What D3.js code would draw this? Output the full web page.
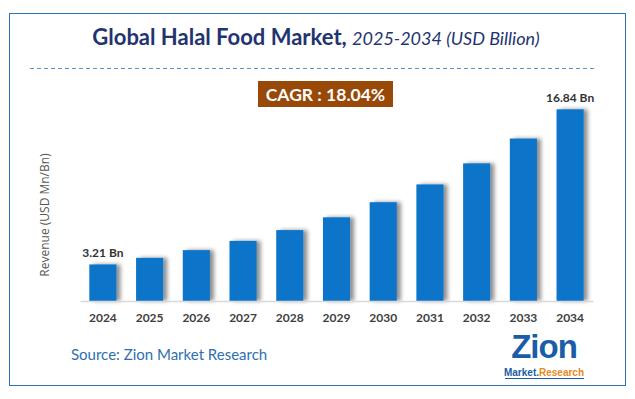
<!DOCTYPE html>
<html>
<head>
<meta charset="utf-8">
<script src="https://cdn.jsdelivr.net/npm/d3@7"></script>
<style>
  html, body { margin: 0; padding: 0; background: #fff; }
  svg { display: block; }
</style>
</head>
<body>
<svg id="chart"></svg>
<script>
const years  = ['2024', '2025', '2026', '2027', '2028', '2029', '2030', '2031', '2032', '2033', '2034'];
const values = [3.21, 3.79, 4.47, 5.28, 6.23, 7.35, 8.68, 10.24, 12.09, 14.27, 16.84];
const labels = { '2024': '3.21 Bn', '2034': '16.84 Bn' };
const cagr   = 'CAGR : 18.04%';

const W = 635, H = 399;
const m = { top: 110, right: 42, bottom: 98, left: 80 };
const iW = W - m.left - m.right;
const iH = H - m.top - m.bottom;

const svg = d3.select('#chart').attr('width', W).attr('height', H);

// bar shadow
const defs = svg.append('defs');
const f = defs.append('filter').attr('id', 'shadow')
  .attr('x', '-20%').attr('y', '-10%').attr('width', '160%').attr('height', '120%');
f.append('feGaussianBlur').attr('in', 'SourceAlpha').attr('stdDeviation', 2);
f.append('feOffset').attr('dx', 4).attr('dy', 0).attr('result', 'off');
f.append('feComponentTransfer').append('feFuncA').attr('type', 'linear').attr('slope', 0.45);
const fm = f.append('feMerge');
fm.append('feMergeNode');
fm.append('feMergeNode').attr('in', 'SourceGraphic');

// frame
svg.append('rect')
  .attr('x', 9.5).attr('y', 13.5).attr('width', 616).attr('height', 372)
  .attr('fill', 'none').attr('stroke', '#2e75b6').attr('stroke-width', 1);

// title
const title = svg.append('text')
  .attr('x', 316).attr('y', 45).attr('text-anchor', 'middle')
  .style('font-family', 'Lato, "Open Sans", sans-serif');
title.append('tspan').text('Global Halal Food Market, ')
  .attr('font-size', 22).attr('font-weight', 'bold').attr('fill', '#1f3470');
title.append('tspan').text('2025-2034 (USD Billion)')
  .attr('font-size', 18).attr('font-style', 'italic').attr('fill', '#1f3470');

// dashed separator
svg.append('line')
  .attr('x1', 30).attr('x2', 597).attr('y1', 68.5).attr('y2', 68.5)
  .attr('stroke', '#5b8ed0').attr('stroke-width', 1).attr('stroke-dasharray', '4,3');

// CAGR badge
svg.append('rect').attr('x', 258).attr('y', 81).attr('width', 135).attr('height', 26).attr('fill', '#984807');
svg.append('text').attr('x', 325.5).attr('y', 100.5).attr('text-anchor', 'middle')
  .attr('fill', '#fff').attr('font-size', 17.5).attr('font-weight', 'bold')
  .style('font-family', 'Lato, sans-serif').text(cagr);

const g = svg.append('g').attr('transform', `translate(${m.left},${m.top})`);

const xScale = d3.scaleBand().domain(years).range([0, iW]).paddingInner(0.42).paddingOuter(0.2);
const yScale = d3.scaleLinear().domain([0, d3.max(values)]).range([iH, iH - 191.7]);

// bars
g.selectAll('.bar')
  .data(years)
  .join('rect')
    .attr('class', 'bar')
    .attr('x', d => xScale(d))
    .attr('y', (d, i) => yScale(values[i]))
    .attr('width', xScale.bandwidth())
    .attr('height', (d, i) => iH - yScale(values[i]))
    .attr('fill', '#0a74c9')
    .attr('filter', 'url(#shadow)');

// baseline + year ticks
g.append('g')
  .attr('transform', `translate(0,${iH})`)
  .call(d3.axisBottom(xScale).tickSize(0).tickPadding(12))
  .call(ax => {
    ax.select('.domain').attr('stroke', '#d9d9d9').attr('stroke-width', 1.5);
    ax.selectAll('text')
      .attr('fill', '#404040').attr('font-size', 12).attr('font-weight', 'bold')
      .style('font-family', 'Lato, sans-serif');
  });

// value labels
g.selectAll('.vlabel')
  .data(years.filter(y => labels[y]))
  .join('text')
    .attr('class', 'vlabel')
    .attr('x', d => xScale(d) + xScale.bandwidth() / 2)
    .attr('y', d => yScale(values[years.indexOf(d)]) - 7)
    .attr('text-anchor', 'middle')
    .attr('fill', '#333').attr('font-size', 12).attr('font-weight', 'bold')
    .style('font-family', 'Lato, sans-serif')
    .text(d => labels[d]);

// y label
svg.append('text')
  .attr('transform', 'translate(49,215) rotate(-90)')
  .attr('text-anchor', 'middle')
  .attr('fill', '#555').attr('font-size', 12)
  .style('font-family', '"Open Sans", sans-serif')
  .text('Revenue (USD Mn/Bn)');

// source
svg.append('text')
  .attr('x', 71).attr('y', 360)
  .attr('fill', '#2e6fb0').attr('font-size', 15)
  .style('font-family', 'Lato, sans-serif')
  .text('Source: Zion Market Research');

// logo
const logo = svg.append('g');
logo.append('text').attr('x', 544).attr('y', 358).attr('text-anchor', 'middle')
  .attr('font-size', 33).attr('font-weight', 'bold').attr('fill', '#1a5ca8')
  .attr('letter-spacing', -1)
  .style('font-family', '"Liberation Sans", sans-serif')
  .text('Zion');
const lt = logo.append('text').attr('x', 544).attr('y', 376).attr('text-anchor', 'middle')
  .attr('font-size', 10).attr('font-weight', 'bold')
  .style('font-family', '"Liberation Sans", sans-serif');
lt.append('tspan').attr('fill', '#1a5ca8').text('Market.');
lt.append('tspan').attr('fill', '#e8891d').text('Research');
logo.append('line').attr('x1', 505).attr('x2', 584).attr('y1', 378.5).attr('y2', 378.5)
  .attr('stroke', '#1a5ca8').attr('stroke-width', 1);
</script>
</body>
</html>
